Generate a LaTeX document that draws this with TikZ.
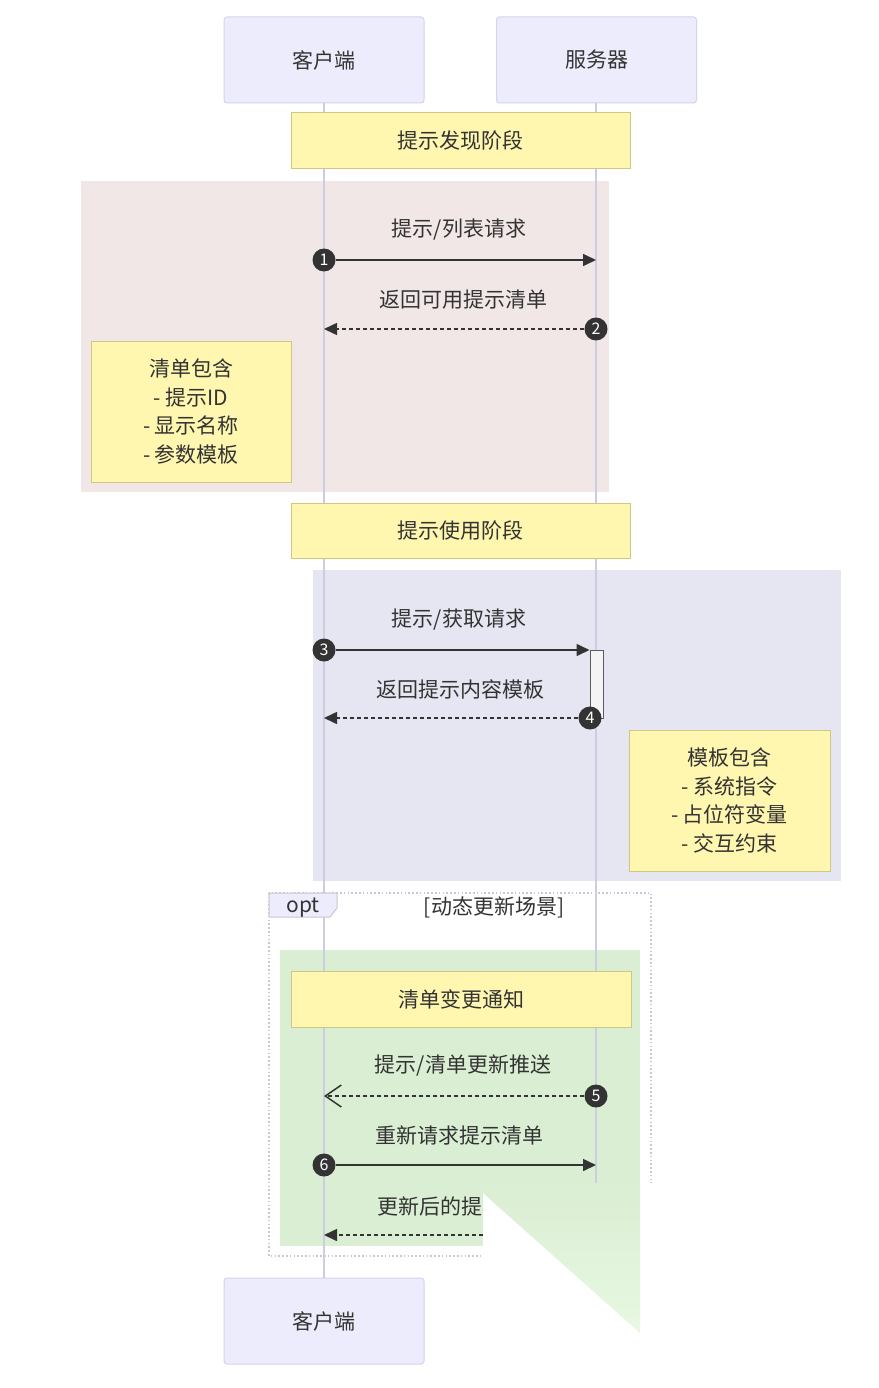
\documentclass[tikz,border=0pt]{standalone}
\usepackage{fontspec}
\setmainfont{Noto Sans CJK SC}
\usetikzlibrary{arrows.meta}
\definecolor{actorfill}{RGB}{236,236,252}
\definecolor{actorline}{RGB}{212,212,234}
\definecolor{lifeline}{RGB}{204,204,226}
\definecolor{notefill}{RGB}{255,246,176}
\definecolor{notestroke}{RGB}{206,200,128}
\definecolor{rectpink}{RGB}{241,231,231}
\definecolor{rectlav}{RGB}{230,230,242}
\definecolor{rectgreen}{RGB}{218,238,211}
\definecolor{wedgegreen}{RGB}{232,248,226}
\definecolor{dark}{RGB}{51,51,51}
\definecolor{optline}{RGB}{200,200,206}
\definecolor{actfill}{RGB}{244,244,244}
\newcommand\fs{\fontsize{21}{28.5}\selectfont}
\tikzset{
  x=1pt, y=-1pt,
  actor/.style={draw=actorline, fill=actorfill, rounded corners=3pt, line width=1pt,
    minimum width=200pt, minimum height=86pt, font=\fs, text=dark, inner sep=0pt},
  notebox/.style={draw=notestroke, fill=notefill, line width=1pt, align=center,
    font=\fs, text=dark, inner sep=0pt},
  num/.style={circle, fill=dark, text=white, inner sep=0pt, minimum size=23pt,
    font=\fontsize{16}{16}\selectfont},
  lbl/.style={font=\fs, text=dark, inner sep=0pt},
  msg/.style={draw=dark, line width=1.6pt, -{Triangle[length=13pt,width=12pt]}},
  reply/.style={draw=dark, line width=1.6pt, dash pattern=on 4pt off 3pt,
    -{Triangle[length=13pt,width=12pt]}},
  openreply/.style={draw=dark, line width=1.6pt, dash pattern=on 4pt off 3pt,
    -{Straight Barb[length=16pt,width=22pt,line width=1.5pt]}},
  life/.style={draw=lifeline, line width=1.6pt},
}
\begin{document}
\begin{tikzpicture}
\fill[white] (0,0) rectangle (878,1388);
\useasboundingbox (0,0) rectangle (878,1388);

% background rects
\fill[rectpink] (81,181) rectangle (609,492);
\fill[rectlav] (313,570) rectangle (841,881);
\draw[optline, line width=1.6pt, dash pattern=on 1.6pt off 2.2pt] (269,893) rectangle (651,1256);
\fill[rectgreen] (280,950) rectangle (640,1246);

% actors
\node[actor] (ca) at (324,60) {客户端};
\node[actor] (sa) at (596.5,60) {服务器};
\node[actor] (cb) at (324,1321) {客户端};
\coordinate (sb) at (596,1278);

% lifelines
\draw[life] (ca.south) -- (cb.north);
\draw[life] (596,103) -- (sb);

% notes
\node[notebox, minimum width=339pt, minimum height=56pt] (ndisc) at (460.5,141) {提示发现阶段};
\node[notebox, minimum width=200pt, minimum height=141pt] (nlist) at (191,411.5) {清单包含\\- 提示ID\\- 显示名称\\- 参数模板};
\node[notebox, minimum width=339pt, minimum height=55pt] (nuse) at (460.5,530.5) {提示使用阶段};
\node[notebox, minimum width=201pt, minimum height=141pt] (ntpl) at (729.5,800.5) {模板包含\\- 系统指令\\- 占位符变量\\- 交互约束};

% opt tab
\draw[fill=actorfill, draw=optline, line width=1pt] (269,893) -- (337,893) -- (337,908) -- (330,917) -- (269,917) -- cycle;
\node[lbl] (optl) at (303,908) {opt};
\node[lbl] (optc) at (494,907) {[动态更新场景]};
\node[notebox, minimum width=340pt, minimum height=56pt] (nchg) at (461,999) {清单变更通知};

% activation
\node[draw=dark!80, fill=actfill, line width=1pt, minimum width=13pt, minimum height=68pt, inner sep=0pt] (act) at (596.5,684) {};

% message labels
\node[lbl] (l1) at (459,230) {提示/列表请求};
\node[lbl] (l2) at (463,300) {返回可用提示清单};
\node[lbl] (l3) at (459,620) {提示/获取请求};
\node[lbl] (l4) at (460,689) {返回提示内容模板};
\node[lbl] (l5) at (463,1066) {提示/清单更新推送};
\node[lbl] (l6) at (459,1135) {重新请求提示清单};
\node[lbl, anchor=west] (l7) at (377,1206) {更新后的提};

% endpoints
\coordinate (s1) at (596,260);
\coordinate (t2) at (324,329);
\coordinate (t4) at (324,718);
\coordinate (t5) at (324,1096);
\coordinate (s6) at (596,1165);
\coordinate (f7) at (483,1235);
\coordinate (t7) at (324,1235);

% numbered markers
\node[num] (c1) at (324,260) {1};
\node[num] (c2) at (596,329) {2};
\node[num] (c3) at (324,650) {3};
\node[num] (c4) at (590,718) {4};
\node[num] (c5) at (596,1096) {5};
\node[num] (c6) at (324,1165) {6};

% messages
\draw[msg] (c1.east) -- (s1);
\draw[reply] (c2.west) -- (t2);
\draw[msg] (c3.east) -- (act.west |- c3);
\draw[reply] (c4.west) -- (t4);
\draw[openreply] (c5.west) -- (t5);
\draw[msg] (c6.east) -- (s6);
\draw[reply] (f7) -- (t7);

% damaged corner of the picture
\fill[white] (483,1193) -- (640,1333) -- (640,1183) -- (878,1183) -- (878,1388) -- (483,1388) -- cycle;
\shade[top color=rectgreen, bottom color=wedgegreen] (483,1183) -- (640,1183) -- (640,1333) -- (483,1193) -- cycle;
\end{tikzpicture}
\end{document}
